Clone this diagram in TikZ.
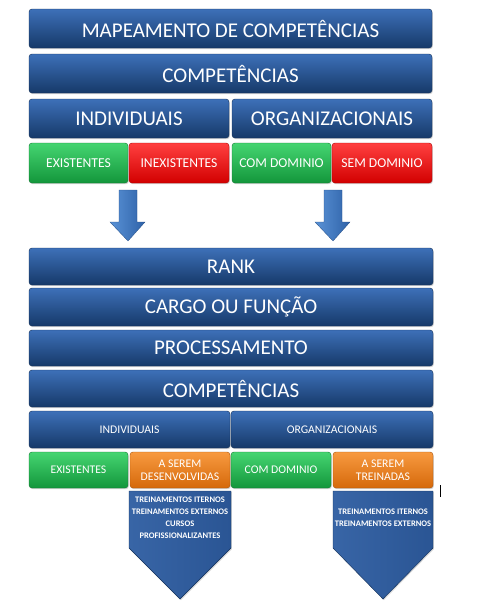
\documentclass[tikz,border=0pt]{standalone}
\usepackage{fontspec}
\setmainfont{Carlito}
\usetikzlibrary{shadows}
\definecolor{blueT}{HTML}{3D70B8}
\definecolor{blueM}{HTML}{1F4D8E}
\definecolor{blueB}{HTML}{163969}
\definecolor{blueD}{HTML}{123059}
\definecolor{greenT}{HTML}{45D571}
\definecolor{greenM}{HTML}{1DB64D}
\definecolor{greenB}{HTML}{13963B}
\definecolor{redT}{HTML}{FF4040}
\definecolor{redM}{HTML}{FA0000}
\definecolor{redB}{HTML}{D20000}
\definecolor{orT}{HTML}{F89A40}
\definecolor{orM}{HTML}{F28019}
\definecolor{orB}{HTML}{D5690B}
\definecolor{arL}{HTML}{5A92D6}
\definecolor{arR}{HTML}{2E62A8}
\definecolor{penL}{HTML}{3865A6}
\definecolor{penM}{HTML}{2A5594}
\tikzset{
  base/.style={rounded corners=3pt, inner sep=0pt, text=white, align=center,
    drop shadow={opacity=0.35, shadow xshift=0.8pt, shadow yshift=-1.2pt}},
  bluebox/.style={base, top color=blueT, middle color=blueM, bottom color=blueB, draw=blueD, line width=0.4pt},
  greenbox/.style={base, top color=greenT, middle color=greenM, bottom color=greenB, draw=greenB!80!black, line width=0.4pt},
  redbox/.style={base, top color=redT, middle color=redM, bottom color=redB, draw=redB!80!black, line width=0.4pt},
  orangebox/.style={base, top color=orT, middle color=orM, bottom color=orB, draw=orB!80!black, line width=0.4pt},
  big/.style={font=\fontsize{21}{24}\selectfont},
  mid/.style={font=\fontsize{13.6}{15}\selectfont},
  sm/.style={font=\fontsize{11.7}{12.7}\selectfont},
  tiny/.style={font=\bfseries\fontsize{8.5}{12}\selectfont},
  blockarrow/.style={left color=arL, right color=arR, draw=arR!80!black, line width=0.3pt},
  pentagon/.style={left color=penL, right color=penM, draw=blueD, line width=0.4pt,
    drop shadow={opacity=0.3, shadow xshift=0.8pt, shadow yshift=-1.2pt}}
}
\begin{document}
\begin{tikzpicture}[x=1pt,y=-1pt]
\useasboundingbox (0,0) rectangle (479,608);
% top block
\node[bluebox,big,minimum width=403,minimum height=39] (map) at (230.5,28.5) {MAPEAMENTO DE COMPETÊNCIAS};
\node[bluebox,big,minimum width=403,minimum height=39] (compa) at (230.5,73.5) {COMPETÊNCIAS};
\node[bluebox,big,minimum width=200,minimum height=39] (inda) at (129,118.5) {INDIVIDUAIS};
\node[bluebox,big,minimum width=200,minimum height=39] (orga) at (332,118.5) {ORGANIZACIONAIS};
\node[greenbox,mid,minimum width=99,minimum height=40] (exa) at (78.5,163) {EXISTENTES};
\node[redbox,mid,minimum width=100,minimum height=40] (inex) at (179,163) {INEXISTENTES};
\node[greenbox,mid,minimum width=99,minimum height=40] (coma) at (281.5,163) {COM DOMINIO};
\node[redbox,mid,minimum width=100,minimum height=40] (sem) at (382,163) {SEM DOMINIO};
% block arrows
\draw[blockarrow] (119,190) -- (137,190) -- (137,222) -- (145,222) -- (128,241) -- (110,222) -- (119,222) -- cycle;
\draw[blockarrow] (324,190) -- (342,190) -- (342,222) -- (350,222) -- (333,241) -- (315,222) -- (324,222) -- cycle;
% lower block
\node[bluebox,big,minimum width=404,minimum height=37] (rank) at (231,266.5) {RANK};
\node[bluebox,big,minimum width=404,minimum height=38] (cargo) at (231,307) {CARGO OU FUNÇÃO};
\node[bluebox,big,minimum width=404,minimum height=36] (proc) at (231,348) {PROCESSAMENTO};
\node[bluebox,big,minimum width=404,minimum height=37] (compb) at (231,388.5) {COMPETÊNCIAS};
\node[bluebox,sm,minimum width=201,minimum height=37] (indb) at (129.5,429.5) {INDIVIDUAIS};
\node[bluebox,sm,minimum width=202,minimum height=37] (orgb) at (332,429.5) {ORGANIZACIONAIS};
\node[greenbox,sm,minimum width=99,minimum height=36] (exb) at (78.5,470) {EXISTENTES};
\node[orangebox,sm,minimum width=100,minimum height=36] (des) at (180,470) {A SEREM\\DESENVOLVIDAS};
\node[greenbox,sm,minimum width=100,minimum height=36] (comb) at (281,470) {COM DOMINIO};
\node[orangebox,sm,minimum width=100,minimum height=36] (trein) at (383,470) {A SEREM\\TREINADAS};
% pentagons
\draw[pentagon] (129,491) -- (231,491) -- (231,548) -- (180,599) -- (129,548) -- cycle;
\draw[pentagon] (333,491) -- (433,491) -- (433,548) -- (383,599) -- (333,548) -- cycle;
\node[tiny,text=white,align=center,inner sep=0pt] (ltxt) at (180,518) {TREINAMENTOS ITERNOS\\TREINAMENTOS EXTERNOS\\CURSOS\\PROFISSIONALIZANTES};
\node[tiny,text=white,align=center,inner sep=0pt] (rtxt) at (383,518) {TREINAMENTOS ITERNOS\\TREINAMENTOS EXTERNOS};
% cursor mark
\draw[black,line width=0.8pt] (440,485) -- (440,497);
\end{tikzpicture}
\end{document}
